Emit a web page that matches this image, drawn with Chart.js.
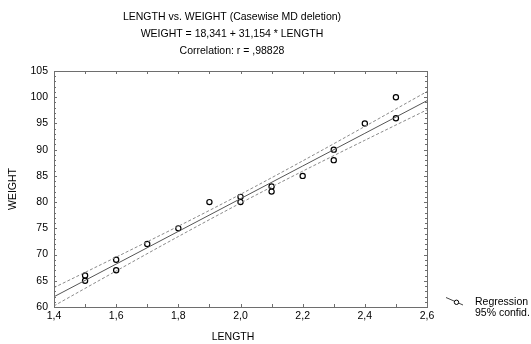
<!DOCTYPE html>
<html>
<head>
<meta charset="utf-8">
<script src="https://cdn.jsdelivr.net/npm/chart.js@4/dist/chart.umd.min.js"></script>
<style>
html,body{margin:0;padding:0;background:#fff;}
#wrap{width:531px;height:344px;}
</style>
</head>
<body>
<div id="wrap"><canvas id="c" width="531" height="344"></canvas></div>
<script>
// ---- data ----
const lengthValues = [1.5, 1.5, 1.6, 1.6, 1.7, 1.8, 1.9, 2.0, 2.0, 2.1, 2.1, 2.2, 2.3, 2.3, 2.4, 2.5, 2.5];
const weightValues = [65, 66, 67, 69, 72, 75, 80, 80, 81, 82, 83, 85, 88, 90, 95, 96, 100];
const lineX = [1.4, 1.6, 1.8, 2.0, 2.2, 2.4, 2.6];
const regressionY = [61.96, 68.19, 74.42, 80.65, 86.88, 93.11, 99.34];
const upperConfY = [63.70, 69.51, 75.40, 81.49, 87.86, 94.43, 101.08];
const lowerConfY = [60.22, 66.87, 73.44, 79.81, 85.90, 91.79, 97.60];
const xTickLabels = ['1,4', '1,6', '1,8', '2,0', '2,2', '2,4', '2,6'];
const yTickLabels = ['60', '65', '70', '75', '80', '85', '90', '95', '100', '105'];
const titleLines = ['LENGTH vs. WEIGHT (Casewise MD deletion)', 'WEIGHT = 18,341 + 31,154 * LENGTH', 'Correlation: r = ,98828'];
const legendLabels = ['Regression', '95% confid.'];
const xAxisTitle = 'LENGTH';
const yAxisTitle = 'WEIGHT';

const FONT = '"Liberation Sans", Arial, sans-serif';
const FSIZE = 10.5;

const points = lengthValues.map((x, i) => ({x: x, y: weightValues[i]}));
const toLine = arr => lineX.map((x, i) => ({x: x, y: arr[i]}));

const framePlugin = {
  id: 'frame',
  afterDraw(chart) {
    const ctx = chart.ctx;
    const a = chart.chartArea;
    const xs = chart.scales.x, ys = chart.scales.y;
    ctx.save();
    ctx.strokeStyle = '#6e6e6e';
    ctx.lineWidth = 1;
    ctx.strokeRect(Math.round(a.left) + 0.5, Math.round(a.top) + 0.5, Math.round(a.right - a.left), Math.round(a.bottom - a.top));
    // inward ticks
    ctx.beginPath();
    for (let k = 0; k <= 12; k++) {
      const px = Math.round(xs.getPixelForValue(1.4 + k * 0.1)) + 0.5;
      ctx.moveTo(px, a.bottom); ctx.lineTo(px, a.bottom - 3);
      ctx.moveTo(px, a.top); ctx.lineTo(px, a.top + 3);
    }
    for (let v = 60; v <= 105; v++) {
      const py = Math.round(ys.getPixelForValue(v)) + 0.5;
      const len = (v % 5 === 0) ? 3 : 2;
      ctx.moveTo(a.left, py); ctx.lineTo(a.left + len, py);
      ctx.moveTo(a.right, py); ctx.lineTo(a.right - len, py);
    }
    ctx.stroke();
    // titles
    ctx.fillStyle = '#000';
    ctx.font = FSIZE + 'px ' + FONT;
    ctx.textAlign = 'center';
    ctx.textBaseline = 'middle';
    const tY = [17, 34, 51];
    titleLines.forEach((t, i) => ctx.fillText(t, 232, tY[i]));
    // axis titles
    ctx.fillText(xAxisTitle, 233, 337);
    ctx.save();
    ctx.translate(13, (a.top + a.bottom) / 2);
    ctx.rotate(-Math.PI / 2);
    ctx.fillText(yAxisTitle, 0, 0);
    ctx.restore();
    // legend
    ctx.strokeStyle = '#444';
    ctx.beginPath();
    ctx.moveTo(446, 297.5); ctx.lineTo(463, 305);
    ctx.stroke();
    ctx.fillStyle = '#fff';
    ctx.beginPath();
    ctx.arc(456.5, 302.3, 2.2, 0, Math.PI * 2);
    ctx.fill();
    ctx.strokeStyle = '#000';
    ctx.stroke();
    ctx.fillStyle = '#000';
    ctx.textAlign = 'left';
    ctx.fillText(legendLabels[0], 475, 302);
    ctx.fillText(legendLabels[1], 475, 313);
    ctx.restore();
  }
};

new Chart(document.getElementById('c'), {
  type: 'scatter',
  data: {
    datasets: [
      {label: 'upper', type: 'line', data: toLine(upperConfY), borderColor: '#8a8a8a', borderWidth: 1, borderDash: [3, 2], pointRadius: 0, tension: 0.3, fill: false},
      {label: 'lower', type: 'line', data: toLine(lowerConfY), borderColor: '#8a8a8a', borderWidth: 1, borderDash: [3, 2], pointRadius: 0, tension: 0.3, fill: false},
      {label: 'Regression', type: 'line', data: toLine(regressionY), borderColor: '#555', borderWidth: 1, pointRadius: 0, tension: 0, fill: false},
      {label: 'points', data: points, pointRadius: 2.6, pointBorderWidth: 1.2, pointBorderColor: '#000', pointBackgroundColor: 'rgba(255,255,255,0)'}
    ]
  },
  options: {
    responsive: false,
    animation: false,
    events: [],
    layout: {padding: {top: 71, right: 104, left: 0, bottom: 0}},
    plugins: {legend: {display: false}, title: {display: false}, tooltip: {enabled: false}},
    scales: {
      x: {
        type: 'linear', min: 1.4, max: 2.6,
        afterFit(s) { s.height = 37; },
        afterBuildTicks(s) { s.ticks = xTickLabels.map((l, i) => ({value: 1.4 + i * 0.2})); },
        grid: {display: false, drawTicks: false},
        border: {display: false},
        ticks: {padding: 3, color: '#000', font: {family: FONT, size: FSIZE}, maxRotation: 0, autoSkip: false,
          callback: (v, i) => xTickLabels[i]}
      },
      y: {
        type: 'linear', min: 60, max: 105,
        afterFit(s) { s.width = 54; },
        afterBuildTicks(s) { s.ticks = yTickLabels.map(l => ({value: Number(l)})); },
        grid: {display: false, drawTicks: false},
        border: {display: false},
        ticks: {padding: 6, color: '#000', font: {family: FONT, size: FSIZE}, autoSkip: false,
          callback: (v, i) => yTickLabels[i]}
      }
    }
  },
  plugins: [framePlugin]
});
</script>
</body>
</html>
